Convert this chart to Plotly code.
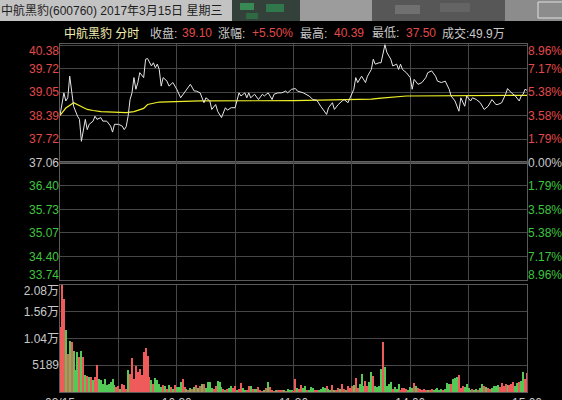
import plotly.graph_objects as go

# ---------------- data ----------------
stock_title = "中航黑豹(600760) 2017年3月15日 星期三"
stock_name = "中航黑豹 分时"
prev_close = 37.06
close_price = "39.10"
change_pct = "+5.50%"
high_price = "40.39"
low_price = "37.50"
total_volume = "49.9万"

# price line: minute index (0 = 09:30, 120 = 11:30/13:00, 240 = 15:00) and price
price_t = [0, 2, 3, 4, 5, 6, 7, 9, 10, 11, 12, 13, 14, 15, 17, 18, 19, 21, 22, 24,
           26, 27, 28, 30, 32, 33, 34, 35, 36, 37, 38, 39, 40, 41, 43, 44, 45, 47, 48, 49,
           50, 51, 52, 53, 55, 56, 58, 60, 62, 64, 65, 67, 69, 70, 72, 74, 75, 77, 78, 80,
           81, 83, 85, 86, 88, 90, 92, 93, 95, 96, 97, 98, 100, 102, 104, 105, 107, 109, 110, 112,
           114, 116, 117, 119, 121, 122, 125, 128, 130, 132, 134, 135, 137, 138, 140, 141, 143, 145, 146, 148,
           149, 151, 152, 153, 155, 157, 158, 160, 161, 162, 164, 165, 167, 168, 170, 171, 173, 174, 175, 176,
           178, 180, 181, 182, 184, 186, 188, 189, 191, 193, 194, 196, 198, 200, 201, 203, 205, 206, 208, 209,
           211, 212, 214, 216, 218, 220, 222, 224, 225, 227, 229, 230, 232, 233, 234, 236, 237, 238, 239, 240]
price_v = [38.39, 39.03, 38.80, 38.89, 39.50, 39.13, 38.65, 38.37, 38.28, 37.66, 38.04, 38.28, 37.99, 38.14, 38.23, 38.37, 38.28, 38.33, 38.23, 38.23,
           38.09, 37.92, 38.14, 38.14, 38.09, 37.99, 38.07, 38.37, 38.84, 39.03, 39.46, 39.13, 39.32, 39.60, 39.46, 39.98, 40.00, 39.79, 39.88, 39.74,
           39.84, 39.69, 39.22, 39.46, 39.36, 39.22, 39.32, 39.13, 38.89, 39.03, 39.13, 39.27, 39.08, 39.08, 39.03, 38.75, 38.89, 38.80, 38.56, 38.70,
           38.51, 38.33, 38.61, 38.54, 38.61, 38.61, 39.03, 38.94, 39.03, 38.89, 39.03, 38.89, 38.99, 38.84, 38.99, 38.94, 39.03, 38.84, 38.99, 39.03,
           39.03, 39.08, 39.03, 39.13, 39.15, 39.08, 39.03, 38.94, 38.84, 38.82, 38.65, 38.56, 38.42, 38.61, 38.75, 38.56, 38.70, 38.80, 38.84, 38.75,
           38.89, 39.13, 39.46, 39.32, 39.50, 39.32, 39.50, 39.69, 39.98, 39.84, 39.88, 39.88, 40.39, 40.17, 39.98, 39.79, 39.84, 39.69, 39.84, 39.69,
           39.60, 39.46, 39.13, 39.41, 39.27, 39.32, 39.46, 39.60, 39.65, 39.50, 39.36, 39.32, 39.36, 39.13, 38.94, 38.80, 38.51, 38.89, 38.65, 38.94,
           38.80, 38.89, 38.84, 38.75, 38.56, 38.65, 38.84, 38.70, 38.70, 38.75, 38.99, 39.15, 39.03, 38.99, 38.94, 38.80, 38.94, 38.99, 39.13, 39.10]

# average price line
avg_t = [0, 3, 7, 10, 14, 17, 21, 34, 38, 43, 45, 51, 60, 72, 120, 135, 150, 160, 165, 170, 178, 240]
avg_v = [38.39, 38.60, 38.75, 38.66, 38.56, 38.53, 38.50, 38.47, 38.50, 38.59, 38.70, 38.77, 38.79, 38.80,
         38.81, 38.83, 38.84, 38.85, 38.88, 38.90, 38.94, 38.96]

# per-minute volume and direction (r = up, g = down)
volume = [12560, 20760, 18030, 12040, 7410, 9980, 9660, 8050, 4190, 7730, 6760, 8050, 6760, 3220, 3030, 2900, 2900, 2250, 2900, 5150,
          2580, 2380, 1610, 2580, 1290, 1610, 1930, 2580, 1290, 970, 1100, 640, 1480, 1290, 640, 4320, 3540, 6630, 2580, 4960,
          3860, 4510, 3220, 7730, 8570, 7080, 2900, 2250, 1610, 2770, 2380, 1610, 970, 1290, 1100, 640, 1290, 970, 640, 1290,
          970, 970, 1930, 2580, 970, 640, 450, 840, 640, 970, 1290, 840,
          1100, 1480, 1610, 840, 1930, 1930, 840, 640, 1100, 2130, 1930, 970, 640, 450, 640, 840, 1100, 840, 1100, 450,
          640, 1740, 840, 320, 450, 1100, 1100, 640, 640, 640, 970, 320, 190, 320, 840, 1930, 970, 450, 130, 320,
          450, 450, 320, 320, 190, 640, 450, 320, 190,
          2580, 840, 640, 1290, 840, 1100, 450, 320, 970, 840, 450, 320, 450, 640, 970, 840, 1100, 640, 450, 1290,
          450, 320, 840, 640, 1610, 640, 450, 1100, 840, 1100, 1290, 2770, 840, 1610, 3410, 1100, 2130, 1100, 1930, 3860,
          3030, 1100, 970,
          1100, 4510, 9790, 4830, 1100, 1610, 1930, 640, 970, 640, 1480, 320, 840, 840, 640, 320, 970, 840, 1740, 1100,
          840, 640, 450, 640, 320, 450, 320, 640, 450, 640, 840, 450, 640, 320, 640, 1740, 1610, 1480, 2580, 2770,
          2900, 3220, 840, 1100, 970, 1610, 840, 450, 640, 320, 640, 450, 840, 1480, 1100, 970, 840, 640, 840, 1100,
          1100, 1290, 970, 1740, 1100, 1480, 1290, 1290, 1610, 1930, 1100, 1740, 1930, 2130, 3860, 2580, 3670]
direction = ("rrrgrgrggg" "rgrgrgrgrr" "gggggggggr" "rgrrrgrrrr"
             "rrrrrrrgrg" "gggrgrgrgr" "gggrrgrgrg" "rg"
             "rgrggggrrg" "ggrgrggrrg" "rrggrrgrgg" "rrrgrgrrrg"
             "rrrgrgggr"
             "rgrrggrggg" "rrggggrggr" "grrgrrgrrr" "grrgggrrgg"
             "rgg"
             "ggrggggrgg" "grrrrgggrg" "rrrrrgrrgg" "gggrgggrgg"
             "grrrggggrg" "grggrgrrgg" "ggrrrrgrrr" "ggrggrrrr")

price_ticks = [40.38, 39.72, 39.05, 38.39, 37.72, 37.06, 36.40, 35.73, 35.07, 34.40, 33.74]
pct_labels = ["8.96%", "7.17%", "5.38%", "3.58%", "1.79%", "0.00%",
              "1.79%", "3.58%", "5.38%", "7.17%", "8.96%"]
vol_ticks = [5189, 10378, 15567, 20756]
vol_labels = ["5189", "1.04万", "1.56万", "2.08万"]
time_ticks = [0, 30, 60, 90, 120, 150, 180, 210, 240]
time_labels = ["03/15", "", "10:30", "", "11:30", "", "14:00", "", "15:00"]

# ---------------- styling / layout helpers ----------------
W, H = 562, 400
ML, MR, MT, MB = 60, 35, 44, 8
PW, PH = W - ML - MR, H - MT - MB


def px(x):
    return (x - ML) / PW


def py(y):
    return (H - MB - y) / PH


RED = "#e04a4a"
GREEN = "#3fc43f"
GRAY = "#c8c8c8"
GRID = "#474747"
BORDER = "#5a5a5a"
FONT = "Arial, 'Liberation Sans', 'Noto Sans CJK SC', sans-serif"

price_range = [33.74, 40.41]
vol_range = [0, 20756]
price_dom = [py(280), 1.0]
vol_dom = [0.0, py(285)]
p_per_px = (price_range[1] - price_range[0]) / ((price_dom[1] - price_dom[0]) * PH)
v_per_px = (vol_range[1] - vol_range[0]) / ((vol_dom[1] - vol_dom[0]) * PH)


def colored(txt, v):
    c = RED if v > prev_close + 1e-6 else (GREEN if v < prev_close - 1e-6 else GRAY)
    return f"<span style='color:{c}'>{txt}</span>"


price_text = [colored(f"{v:.2f}", v) for v in price_ticks]
pct_text = [colored(t, v) for t, v in zip(pct_labels, price_ticks)]
label_pos = list(price_ticks)
label_pos[0] = price_ticks[0] - 6 * p_per_px
label_pos[-1] = price_ticks[-1] + 5 * p_per_px
vol_label_pos = list(vol_ticks)
vol_label_pos[-1] = vol_ticks[-1] - 6 * v_per_px

bar_colors = ["#ef5b5b" if d == "r" else "#55c955" for d in direction]

fig = go.Figure()
fig.add_trace(go.Scatter(x=avg_t, y=avg_v, mode="lines", line=dict(color="#f0f028", width=1.2),
                         xaxis="x", yaxis="y", hoverinfo="skip"))
fig.add_trace(go.Scatter(x=price_t, y=price_v, mode="lines", line=dict(color="#e6e6e6", width=1),
                         xaxis="x", yaxis="y", hoverinfo="skip"))
fig.add_trace(go.Bar(x=list(range(len(volume))), y=volume, marker=dict(color=bar_colors, line=dict(width=0)),
                     width=0.55, xaxis="x2", yaxis="y2", hoverinfo="skip"))
# invisible carriers so the label-only overlay axes are rendered
for xa, ya, yv in [("x", "y3", prev_close), ("x", "y4", prev_close), ("x2", "y5", 0)]:
    fig.add_trace(go.Scatter(x=[0], y=[yv], mode="markers", marker=dict(opacity=0, size=1),
                             xaxis=xa, yaxis=ya, hoverinfo="skip"))

axis_common = dict(showline=True, linecolor=BORDER, linewidth=1, mirror=True, zeroline=False,
                   gridcolor=GRID, gridwidth=1, ticks="", fixedrange=True, automargin=False)
label_axis = dict(showgrid=False, zeroline=False, showline=False, ticks="", fixedrange=True,
                  automargin=False, tickmode="array")

fig.update_layout(
    width=W, height=H,
    margin=dict(l=ML, r=MR, t=MT, b=MB, pad=0, autoexpand=False),
    paper_bgcolor="#000000", plot_bgcolor="#000000",
    showlegend=False, bargap=0,
    font=dict(family=FONT, size=12, color=GRAY),
    xaxis=dict(domain=[0, 1], anchor="y", range=[0, 240], tickmode="array", tickvals=time_ticks,
               showticklabels=False, **axis_common),
    yaxis=dict(domain=price_dom, anchor="x", range=price_range, tickmode="array", tickvals=price_ticks,
               showticklabels=False, **axis_common),
    yaxis3=dict(overlaying="y", anchor="x", side="left", range=price_range,
                tickvals=label_pos, ticktext=price_text, tickfont=dict(size=12), **label_axis),
    yaxis4=dict(overlaying="y", anchor="x", side="right", range=price_range,
                tickvals=label_pos, ticktext=pct_text, tickfont=dict(size=12), **label_axis),
    xaxis2=dict(domain=[0, 1], anchor="y2", matches="x", range=[0, 240], tickmode="array",
                tickvals=time_ticks, ticktext=time_labels, tickfont=dict(size=12, color=GRAY), **axis_common),
    yaxis2=dict(domain=vol_dom, anchor="x2", range=vol_range, tickmode="array", tickvals=vol_ticks,
                showticklabels=False, **axis_common),
    yaxis5=dict(overlaying="y2", anchor="x2", side="left", range=vol_range,
                tickvals=vol_label_pos, ticktext=vol_labels, tickfont=dict(size=12, color=GRAY), **label_axis),
)

shapes = []
# previous-close heavy line
shapes.append(dict(type="line", xref="x", yref="y", x0=0, x1=240, y0=prev_close, y1=prev_close,
                   line=dict(color="#626262", width=3), layer="below"))
# header band (blurred screenshot strip)
band = [(0, 562, "#c3c3c3"), (232, 300, "#33413a"), (300, 372, "#9c9c9c"),
        (372, 505, "#575757"), (505, 562, "#8c8c8c")]
for x0, x1, c in band:
    shapes.append(dict(type="rect", xref="paper", yref="paper", x0=px(x0), x1=px(x1), y0=py(21), y1=py(0),
                       fillcolor=c, line=dict(width=0), layer="below"))
blobs = [(240, 254, 3, 10, "#3aa860"), (266, 284, 4, 12, "#2f8f52"), (246, 258, 13, 19, "#2c7a48"),
         (395, 420, 5, 14, "#7a7a7a"), (440, 470, 3, 12, "#6a6a6a")]
for x0, x1, y0, y1, c in blobs:
    shapes.append(dict(type="rect", xref="paper", yref="paper", x0=px(x0), x1=px(x1), y0=py(y1), y1=py(y0),
                       fillcolor=c, opacity=0.7, line=dict(width=0), layer="below"))
shapes.append(dict(type="rect", xref="paper", yref="paper", x0=px(538), x1=px(566), y0=py(18), y1=py(2),
                   fillcolor="rgba(0,0,0,0)", line=dict(color="#e0e0e0", width=1)))
fig.update_layout(shapes=shapes)

ann = [dict(text=stock_title, x=px(0), y=py(10), color="#1e1e1e")]
info = [(stock_name, 63, "#f4efb2"), ("收盘:", 149, GRAY), (close_price, 181, RED),
        ("涨幅:", 217, GRAY), (change_pct, 251, RED), ("最高:", 299, GRAY), (high_price, 333, RED),
        ("最低:", 371, GRAY), (low_price, 405, RED), ("成交:" + total_volume, 441, GRAY)]
for t, x, c in info:
    ann.append(dict(text=t, x=px(x), y=py(33), color=c))
fig.update_layout(annotations=[
    dict(text=a["text"], x=a["x"], y=a["y"], xref="paper", yref="paper", xanchor="left", yanchor="middle",
         showarrow=False, font=dict(family=FONT, size=12, color=a["color"]), borderpad=0)
    for a in ann
])

fig.write_html("out.html", config={"displayModeBar": False},
               post_script="document.body.style.margin='0px';document.body.style.overflow='hidden';")
